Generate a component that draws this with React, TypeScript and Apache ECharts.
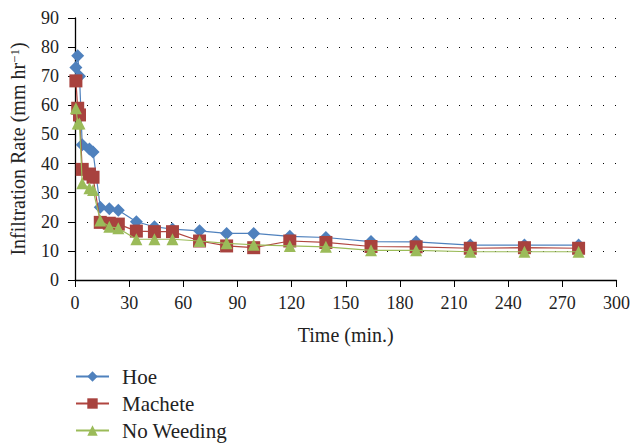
import React, { useEffect, useRef } from "react";
import * as echarts from "echarts";

const times = [0.5, 1.5, 2.5, 4, 8, 10, 14, 19, 24, 34, 44, 54, 69, 84, 99, 119, 139, 164, 189, 219, 249, 279];
const hoe = [73, 77, 70, 46.5, 45, 44, 25, 24.5, 24, 20, 18.3, 17.5, 16.9, 16, 16, 15, 14.6, 13.2, 13.1, 12, 12, 12];
const machete = [68.4, 59, 56.7, 38, 36.4, 35.3, 19.8, 19.5, 19.2, 16.8, 16.6, 16.6, 13.4, 11.7, 11.1, 13.4, 12.9, 11.5, 11.4, 10.9, 11.1, 10.9];
const noWeeding = [59, 53.8, 53.8, 33.2, 31.5, 30.9, 20.4, 18.3, 17.8, 14, 14, 14, 13.4, 12.6, 12.1, 11.7, 11.4, 10.2, 10.2, 9.7, 9.7, 9.7];
const seriesNames = ["Hoe", "Machete", "No Weeding"];
const legendTops = [366, 393, 420];

const FONT = "'Liberation Serif', 'DejaVu Serif', serif";

export default function App() {
  const ref = useRef<HTMLDivElement>(null);
  useEffect(() => {
    const chart = echarts.init(ref.current!, undefined, { renderer: "svg" });
    const pair = (vals: number[]) => times.map((t, i) => [t, vals[i]]);
    chart.setOption({
      animation: false,
      textStyle: { fontFamily: FONT },
      grid: { left: 75, right: 16, top: 18, bottom: 163 },
      legend: seriesNames.map((n, i) => ({
        orient: "horizontal",
        left: 75,
        top: legendTops[i],
        padding: 0,
        itemWidth: 33,
        itemHeight: 13,
        textStyle: { fontFamily: FONT, fontSize: 21, lineHeight: 20, color: "#222", padding: [0, 0, 0, 8] },
        data: [n],
      })),
      xAxis: {
        type: "value",
        min: 0,
        max: 300,
        interval: 30,
        name: "Time (min.)",
        nameLocation: "middle",
        nameGap: 45,
        nameTextStyle: { fontFamily: FONT, fontSize: 20, color: "#222" },
        axisLine: { lineStyle: { color: "#000", width: 1.3 } },
        axisTick: { show: true, length: 7, lineStyle: { color: "#000" } },
        axisLabel: { fontFamily: FONT, fontSize: 18, color: "#222", margin: 14 },
        splitLine: { show: false },
      },
      yAxis: {
        type: "value",
        min: 0,
        max: 90,
        interval: 10,
        name: "{a|Infiltration Rate (mm hr}{b|−1}{a|)}",
        nameLocation: "middle",
        nameGap: 47,
        nameTextStyle: {
          rich: {
            a: { fontFamily: FONT, fontSize: 20, color: "#222" },
            b: { fontFamily: FONT, fontSize: 13, color: "#222", verticalAlign: "top", padding: [0, 0, 7, 0] },
          },
        },
        axisLine: { show: true, lineStyle: { color: "#000", width: 1.3 } },
        axisTick: { show: true, length: 7, lineStyle: { color: "#000" } },
        axisLabel: { fontFamily: FONT, fontSize: 18, color: "#222", margin: 16 },
        splitLine: { show: true, lineStyle: { color: "#000", type: [1, 11], width: 1 } },
      },
      series: [
        {
          name: "Hoe",
          type: "line",
          data: pair(hoe),
          symbol: "diamond",
          symbolSize: 13,
          lineStyle: { color: "#4F81BD", width: 1.2 },
          itemStyle: { color: "#4F81BD" },
          z: 3,
        },
        {
          name: "Machete",
          type: "line",
          data: pair(machete),
          symbol: "rect",
          symbolSize: 13,
          lineStyle: { color: "#B0453F", width: 1.2 },
          itemStyle: { color: "#A8423E" },
          z: 4,
        },
        {
          name: "No Weeding",
          type: "line",
          data: pair(noWeeding),
          symbol: "triangle",
          symbolSize: 12,
          lineStyle: { color: "#9BBB59", width: 1.2 },
          itemStyle: { color: "#9BBB59" },
          z: 5,
        },
      ],
    });
    return () => chart.dispose();
  }, []);
  return (
    <div
      ref={ref}
      style={{ position: "fixed", left: 0, top: 0, width: 633, height: 443, background: "#fff" }}
    />
  );
}
